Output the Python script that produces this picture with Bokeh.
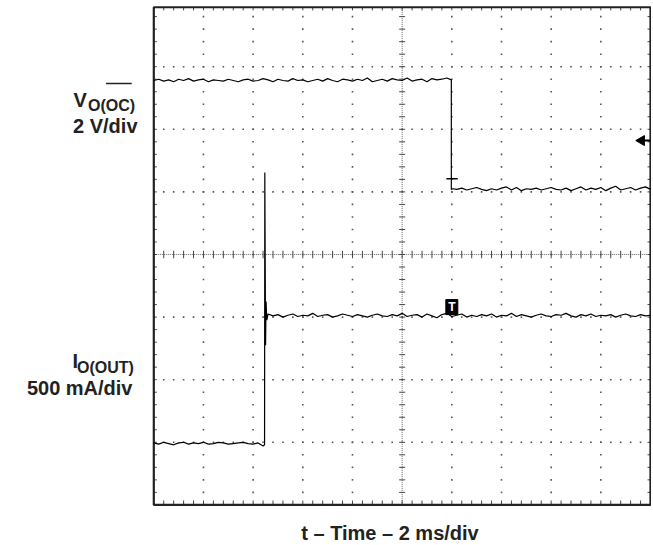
import numpy as np
from bokeh.plotting import figure
from bokeh.models import Range1d
from bokeh.embed import file_html
from bokeh.resources import INLINE
from bokeh.core.properties import value

# ---- data (in screen divisions: x 0..10 = 2 ms/div, y 0..8) ----
SAMPLE = 0.1  # div between samples

# V_O(OC) trace: high level, falls at t = 6.0 div, then low level
v_high_t0 = 0.0
v_high = [6.78, 6.80, 6.77, 6.79, 6.76, 6.80, 6.78, 6.81, 6.77, 6.79,
          6.80, 6.76, 6.79, 6.78, 6.77, 6.80, 6.78, 6.76, 6.79, 6.80,
          6.77, 6.78, 6.81, 6.79, 6.76, 6.80, 6.78, 6.77, 6.81, 6.78,
          6.79, 6.76, 6.78, 6.80, 6.77, 6.81, 6.78, 6.76, 6.80, 6.79,
          6.77, 6.80, 6.78, 6.82, 6.76, 6.78, 6.80, 6.77, 6.81, 6.79,
          6.78, 6.82, 6.77, 6.79, 6.80, 6.76, 6.81, 6.79, 6.80, 6.82]
v_edge_t = [5.99, 5.99, 6.02]
v_edge = [6.79, 5.04, 5.05]
v_low_t0 = 6.1
v_low = [5.04, 5.06, 5.03, 5.05, 5.07, 5.04, 5.02, 5.05, 5.03, 5.06,
         5.08, 5.03, 5.07, 5.02, 5.05, 5.04, 5.06, 5.03, 5.05, 5.07,
         5.04, 5.03, 5.06, 5.02, 5.05, 5.08, 5.03, 5.06, 5.04, 5.07,
         5.02, 5.06, 5.09, 5.03, 5.05, 5.07, 5.03, 5.06, 5.08, 5.04]
v_tbar_x = [5.89, 6.12]
v_tbar_y = 5.21

# I_O(OUT) trace: low level, step with spike at t = 2.24 div, then high level
i_low_t0 = 0.0
i_low = [0.99, 0.97, 1.00, 0.98, 0.96, 0.99, 1.00, 0.97, 0.99, 0.98,
         1.00, 0.97, 0.98, 1.00, 0.99, 0.97, 0.98, 0.99, 1.00, 0.98,
         0.97, 0.99, 0.94]
i_edge_t = [2.23, 2.235, 2.25, 2.26, 2.275]
i_edge = [0.96, 5.31, 2.55, 3.25, 2.95]
i_high_t0 = 2.3
i_high = [3.05, 3.02, 3.04, 3.00, 3.03, 3.05, 3.01, 3.03, 3.02, 3.06,
          3.01, 3.03, 3.04, 3.00, 3.02, 3.05, 3.03, 3.01, 3.04, 3.02,
          3.00, 3.03, 3.05, 3.02, 3.01, 3.04, 3.02, 3.06, 3.01, 3.03,
          3.04, 3.00, 3.05, 3.02, 2.99, 3.04, 3.06, 3.01, 3.03, 3.05,
          3.00, 3.03, 3.01, 3.04, 3.02, 3.05, 3.00, 3.03, 3.02, 3.06,
          3.01, 3.04, 3.02, 3.00, 3.03, 3.05, 3.02, 3.01, 3.04, 3.03,
          3.06, 3.02, 3.00, 3.04, 3.02, 3.05, 3.01, 3.03, 3.02, 3.04,
          3.00, 3.03, 3.05, 3.02, 3.01, 3.04, 3.02, 3.03]

# markers
trig_x, trig_y = 6.0, 3.16          # "T" trigger marker
arrow_x, arrow_y = 9.82, 5.82       # level arrow at right edge

# text
label_v_main, label_v_sub = "V", "O(OC)"
label_v_scale = "2 V/div"
label_i_main, label_i_sub = "I", "O(OUT)"
label_i_scale = "500 mA/div"
x_title = "t \u2013 Time \u2013 2 ms/div"

X_DIVS, Y_TOP = 10, 7.95

# canvas geometry: screen area (0..10 div) sits at px 153.3..650, 6.5..504.4
PX_X, PX_Y = 49.67, 62.6
W, H = 651, 544
X0_PX, Y0_PX = 153.3, 504.4


def times(t0, n):
    return [round(t0 + SAMPLE * k, 3) for k in range(n)]


v_t = times(v_high_t0, len(v_high)) + v_edge_t + times(v_low_t0, len(v_low))
v_y = v_high + v_edge + v_low
i_t = times(i_low_t0, len(i_low)) + i_edge_t + times(i_high_t0, len(i_high))
i_y = i_low + i_edge + i_high

p = figure(width=W, height=H,
           x_range=Range1d(-X0_PX / PX_X, (W - X0_PX) / PX_X),
           y_range=Range1d((Y0_PX - H) / PX_Y, Y0_PX / PX_Y),
           output_backend="svg", toolbar_location=None,
           x_axis_location=None, y_axis_location=None,
           min_border=0)
p.grid.visible = False
p.outline_line_color = None
p.background_fill_color = "white"
p.border_fill_color = "white"

GRID_C = "#555555"
# dotted graticule
gx, gy = [], []
for i in range(1, X_DIVS):
    if i == 5:
        continue
    for k in range(0, 40):
        gx.append(i); gy.append(round(0.2 * k, 2))
for j in range(1, 8):
    if j == 4:
        continue
    for k in range(0, 51):
        gx.append(round(0.2 * k, 2)); gy.append(j)
p.scatter(gx, gy, marker="square", size=1.6, color=GRID_C, line_width=0)

# center cross with minor ticks
p.line([0, X_DIVS], [4, 4], color="#666666", line_width=1, line_dash="1 1")
p.line([5, 5], [0, Y_TOP], color="#666666", line_width=1, line_dash="1 1")
hx = [round(0.2 * k, 2) for k in range(1, 50)]
p.segment(x0=hx, y0=[3.94] * len(hx), x1=hx, y1=[4.06] * len(hx), color="#444444", line_width=1)
vy = [round(0.2 * k, 2) for k in range(1, 40)]
p.segment(x0=[4.94] * len(vy), y0=vy, x1=[5.06] * len(vy), y1=vy, color="#444444", line_width=1)

# edge ticks
p.segment(x0=hx, y0=[0] * len(hx), x1=hx, y1=[0.07] * len(hx), color="#444444", line_width=1)
p.segment(x0=hx, y0=[Y_TOP] * len(hx), x1=hx, y1=[Y_TOP - 0.05] * len(hx), color="#444444", line_width=1)
p.segment(x0=[0] * len(vy), y0=vy, x1=[0.06] * len(vy), y1=vy, color="#444444", line_width=1)
p.segment(x0=[X_DIVS] * len(vy), y0=vy, x1=[X_DIVS - 0.06] * len(vy), y1=vy, color="#444444", line_width=1)

# screen border
p.quad(left=[0], right=[X_DIVS], bottom=[0], top=[Y_TOP], fill_color=None,
       line_color="#222222", line_width=2.2)

# traces
p.line(v_t, v_y, color="black", line_width=1.2)
p.line(i_t, i_y, color="black", line_width=1.2)
p.segment(x0=[v_tbar_x[0]], y0=[v_tbar_y], x1=[v_tbar_x[1]], y1=[v_tbar_y], color="black", line_width=1.5)

# markers
p.rect(x=[trig_x], y=[trig_y], width=12, height=15, width_units="screen", height_units="screen",
       fill_color="black", line_color="black")
p.text(x=[trig_x], y=[trig_y], text=["T"], text_color="white", text_font=value("Liberation Sans"),
       text_font_style="bold", text_font_size="12px", text_align="center", text_baseline="middle")
p.scatter(x=[arrow_x], y=[arrow_y], marker="triangle", angle=np.pi / 2, size=10, color="black")
p.segment(x0=[arrow_x], y0=[arrow_y], x1=[X_DIVS], y1=[arrow_y], color="black", line_width=2)

FONT = "Liberation Sans"
TC = "#222222"


def lab(x, y, t, size, align="left"):
    p.text(x=[x], y=[y], text=[t], text_font=value(FONT), text_font_style="bold",
           text_font_size=size, text_color=TC, text_align=align, text_baseline="alphabetic")


lab(-1.617, 6.476, label_v_main, "20px")
lab(-1.325, 6.380, label_v_sub, "16px")
p.segment(x0=[-0.962], y0=[6.732], x1=[-0.445], y1=[6.732], color=TC, line_width=1.3)
lab(-0.328, 6.045, label_v_scale, "20px", "right")
lab(-1.637, 2.291, label_i_main, "20px")
lab(-1.546, 2.195, label_i_sub, "16px")
lab(-0.429, 1.875, label_i_scale, "20px", "right")
lab(4.755, -0.441, x_title, "20px", "center")

open("out.html", "w").write(file_html(p, INLINE))
